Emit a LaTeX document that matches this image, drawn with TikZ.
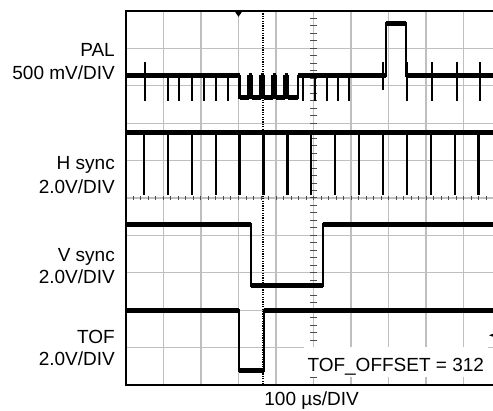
\documentclass[tikz,border=0pt]{standalone}
\usepackage{fontspec}
\setmainfont{Liberation Sans}
\begin{document}
\begin{tikzpicture}[x=37.5pt, y=-37.4pt,
	lbl/.style={font=\fontsize{19}{23}\selectfont, inner sep=0pt, anchor=base east},
	level/.style={line width=5.2pt},
	edge/.style={line width=2.3pt},
	gridline/.style={black!25, line width=1.2pt},
	tick/.style={black!70, line width=1pt}]
	\useasboundingbox (-3.36, -0.2941) rectangle (9.7867, 10.6952);
	\clip (-3.36, -0.2941) rectangle (9.7867, 10.6952);

	% graticule
	\foreach \i in {1,...,9} {
		\draw[gridline] (\i, 0) -- (\i, 10);
		\draw[gridline] (0, \i) -- (10, \i);
	}
	\foreach \i in {1,...,49} {
		\draw[tick] (\i/5, 4.947) -- (\i/5, 5.053);
		\draw[tick] (4.907, \i/5) -- (5.093, \i/5);
	}
	\draw[dash pattern=on 1.2pt off 1.2pt, line width=1.5pt] (3.65, 0) -- (3.65, 10);

	\node[lbl, fill=white, anchor=base west, text height=24pt, text depth=4pt, inner xsep=4pt, inner ysep=1pt] (offset) at (4.728, 9.644) {TOF\_OFFSET = 312};
	\draw[line width=2pt] (0, 0) rectangle (10, 10);

	% trigger and ground markers
	\fill (2.893, 0) -- (3.107, 0) -- (3.0, 0.155) -- cycle;
	\fill (9.68, 8.67) -- (9.95, 8.57) -- (9.95, 8.77) -- cycle;

	% PAL
	\draw[edge] (0, 1.733) -| (3.027, 2.313) -| (3.267, 1.733) -| (3.347, 2.313) -| (3.587, 1.733) -| (3.667, 2.313) -| (3.907, 1.733) -| (3.987, 2.313) -| (4.227, 1.733) -| (4.307, 2.313) -| (4.587, 1.733) -| (6.933, 0.33) -| (7.467, 1.733) -- (10, 1.733);
	\foreach \a/\b/\y in {0/3.027/1.733, 3.027/3.267/2.313, 3.267/3.347/1.733, 3.347/3.587/2.313, 3.587/3.667/1.733, 3.667/3.907/2.313, 3.907/3.987/1.733, 3.987/4.227/2.313, 4.227/4.307/1.733, 4.307/4.587/2.313, 4.587/6.933/1.733, 6.933/7.467/0.33, 7.467/10/1.733}
		\draw[level] (\a, \y) -- (\b, \y);
	\foreach \x in {0.507, 7.5, 8.152, 8.819, 9.44}
		\draw[edge] (\x, 1.364) -- (\x, 2.406);
	\foreach \x in {1.112, 1.421, 1.752, 2.072, 2.4, 2.712, 4.72, 5.04, 5.36, 5.653, 5.947}
		\draw[edge] (\x, 1.733) -- (\x, 2.406);
	\draw[edge] (6.861, 1.356) -- (6.861, 2.112);

	% H sync
	\draw[level] (0, 3.249) -- (10, 3.249);
	\foreach \k in {0,...,14}
		\draw[edge] (0.48+0.6373*\k, 3.249) -- (0.48+0.6373*\k, 4.92);

	% V sync
	\draw[edge] (0, 5.7) -| (3.325, 7.348) -| (5.245, 5.7) -- (10, 5.7);
	\draw[level] (0, 5.7) -- (3.325, 5.7);
	\draw[level] (3.325, 7.348) -- (5.245, 7.348);
	\draw[level] (5.245, 5.7) -- (10, 5.7);

	% TOF
	\draw[edge] (0, 8.0) -| (3.013, 9.62) -| (3.68, 8.0) -- (10, 8.0);
	\draw[level] (0, 8.0) -- (3.013, 8.0);
	\draw[level] (3.013, 9.62) -- (3.68, 9.62);
	\draw[level] (3.68, 8.0) -- (10, 8.0);

	% channel labels
	\node[lbl] (pal) at (-0.293, 1.219) {PAL};
	\node[lbl] (pal-scale) at (-0.293, 1.845) {500 mV/DIV};
	\node[lbl] (hsync) at (-0.293, 4.233) {H sync};
	\node[lbl] (hsync-scale) at (-0.293, 4.874) {2.0V/DIV};
	\node[lbl] (vsync) at (-0.293, 6.703) {V sync};
	\node[lbl] (vsync-scale) at (-0.293, 7.281) {2.0V/DIV};
	\node[lbl] (tof) at (-0.293, 8.885) {TOF};
	\node[lbl] (tof-scale) at (-0.293, 9.484) {2.0V/DIV};
	\node[lbl, anchor=base] (timebase) at (4.95, 10.56) {100 µs/DIV};
\end{tikzpicture}
\end{document}
